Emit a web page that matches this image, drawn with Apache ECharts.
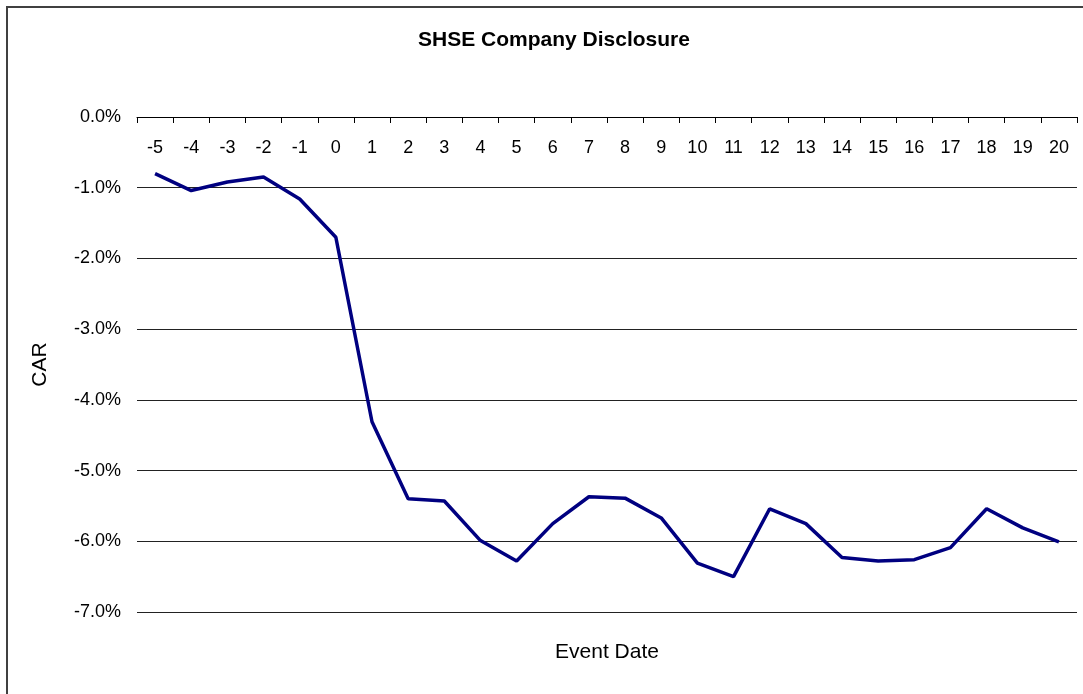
<!DOCTYPE html>
<html>
<head>
<meta charset="utf-8">
<title>SHSE Company Disclosure</title>
<script src="https://cdn.jsdelivr.net/npm/echarts@6/dist/echarts.min.js"></script>
<style>
  html, body { margin: 0; padding: 0; overflow: hidden; background: #fff; }
  #frame {
    position: absolute; left: 6px; top: 6px; width: 2000px; height: 2000px;
    border: 2px solid #404040; box-sizing: border-box;
  }
  #chart { position: absolute; left: 0; top: 0; width: 1083px; height: 694px; }
</style>
</head>
<body>
<div id="frame"></div>
<div id="chart"></div>
<script>
// event days and cumulative abnormal return (%)
const eventDays = ['-5', '-4', '-3', '-2', '-1', '0', '1', '2', '3', '4', '5', '6', '7',
  '8', '9', '10', '11', '12', '13', '14', '15', '16', '17', '18', '19', '20']
const carValues = [-0.80, -1.04, -0.92, -0.85, -1.16, -1.70, -4.31, -5.40, -5.43, -5.99,
  -6.28, -5.75, -5.37, -5.39, -5.67, -6.31, -6.50, -5.54, -5.75, -6.23, -6.28, -6.26,
  -6.09, -5.54, -5.81, -6.01]

const font = 'Liberation Sans, Arial, sans-serif'
const chart = echarts.init(document.getElementById('chart'))

chart.setOption({
  animation: false,
  backgroundColor: 'transparent',
  title: {
    text: 'SHSE Company Disclosure',
    left: 549,
    top: 25,
    textAlign: 'center',
    textStyle: { fontFamily: font, fontSize: 21, fontWeight: 'bold', color: '#000' },
  },
  graphic: [
    {
      type: 'text',
      x: 607,
      y: 652,
      style: {
        text: 'Event Date',
        font: '21px ' + font,
        fill: '#000',
        textAlign: 'center',
        textVerticalAlign: 'middle',
      },
    },
  ],
  grid: { left: 137, right: 6, top: 117, bottom: 82 },
  xAxis: {
    type: 'category',
    position: 'top',
    data: eventDays,
    boundaryGap: true,
    axisLine: { lineStyle: { color: '#000', width: 1 } },
    axisTick: { show: true, inside: true, length: 6, interval: 0, lineStyle: { color: '#000', width: 1 } },
    axisLabel: {
      inside: true,
      interval: 0,
      margin: 22,
      fontFamily: font,
      fontSize: 18,
      color: '#000',
    },
  },
  yAxis: {
    type: 'value',
    min: -7,
    max: 0,
    interval: 1,
    name: 'CAR',
    nameLocation: 'middle',
    nameRotate: 90,
    nameGap: 86,
    nameTextStyle: { fontFamily: font, fontSize: 21, color: '#000' },
    axisLine: { show: false },
    axisTick: { show: false },
    axisLabel: {
      margin: 16,
      fontFamily: font,
      fontSize: 18,
      color: '#000',
      formatter: (v) => v.toFixed(1) + '%',
    },
    splitLine: { lineStyle: { color: '#222', width: 1 } },
  },
  series: [
    {
      name: 'CAR',
      type: 'line',
      data: carValues,
      symbol: 'none',
      lineStyle: { color: '#000080', width: 3.5 },
    },
  ],
})
</script>
</body>
</html>
